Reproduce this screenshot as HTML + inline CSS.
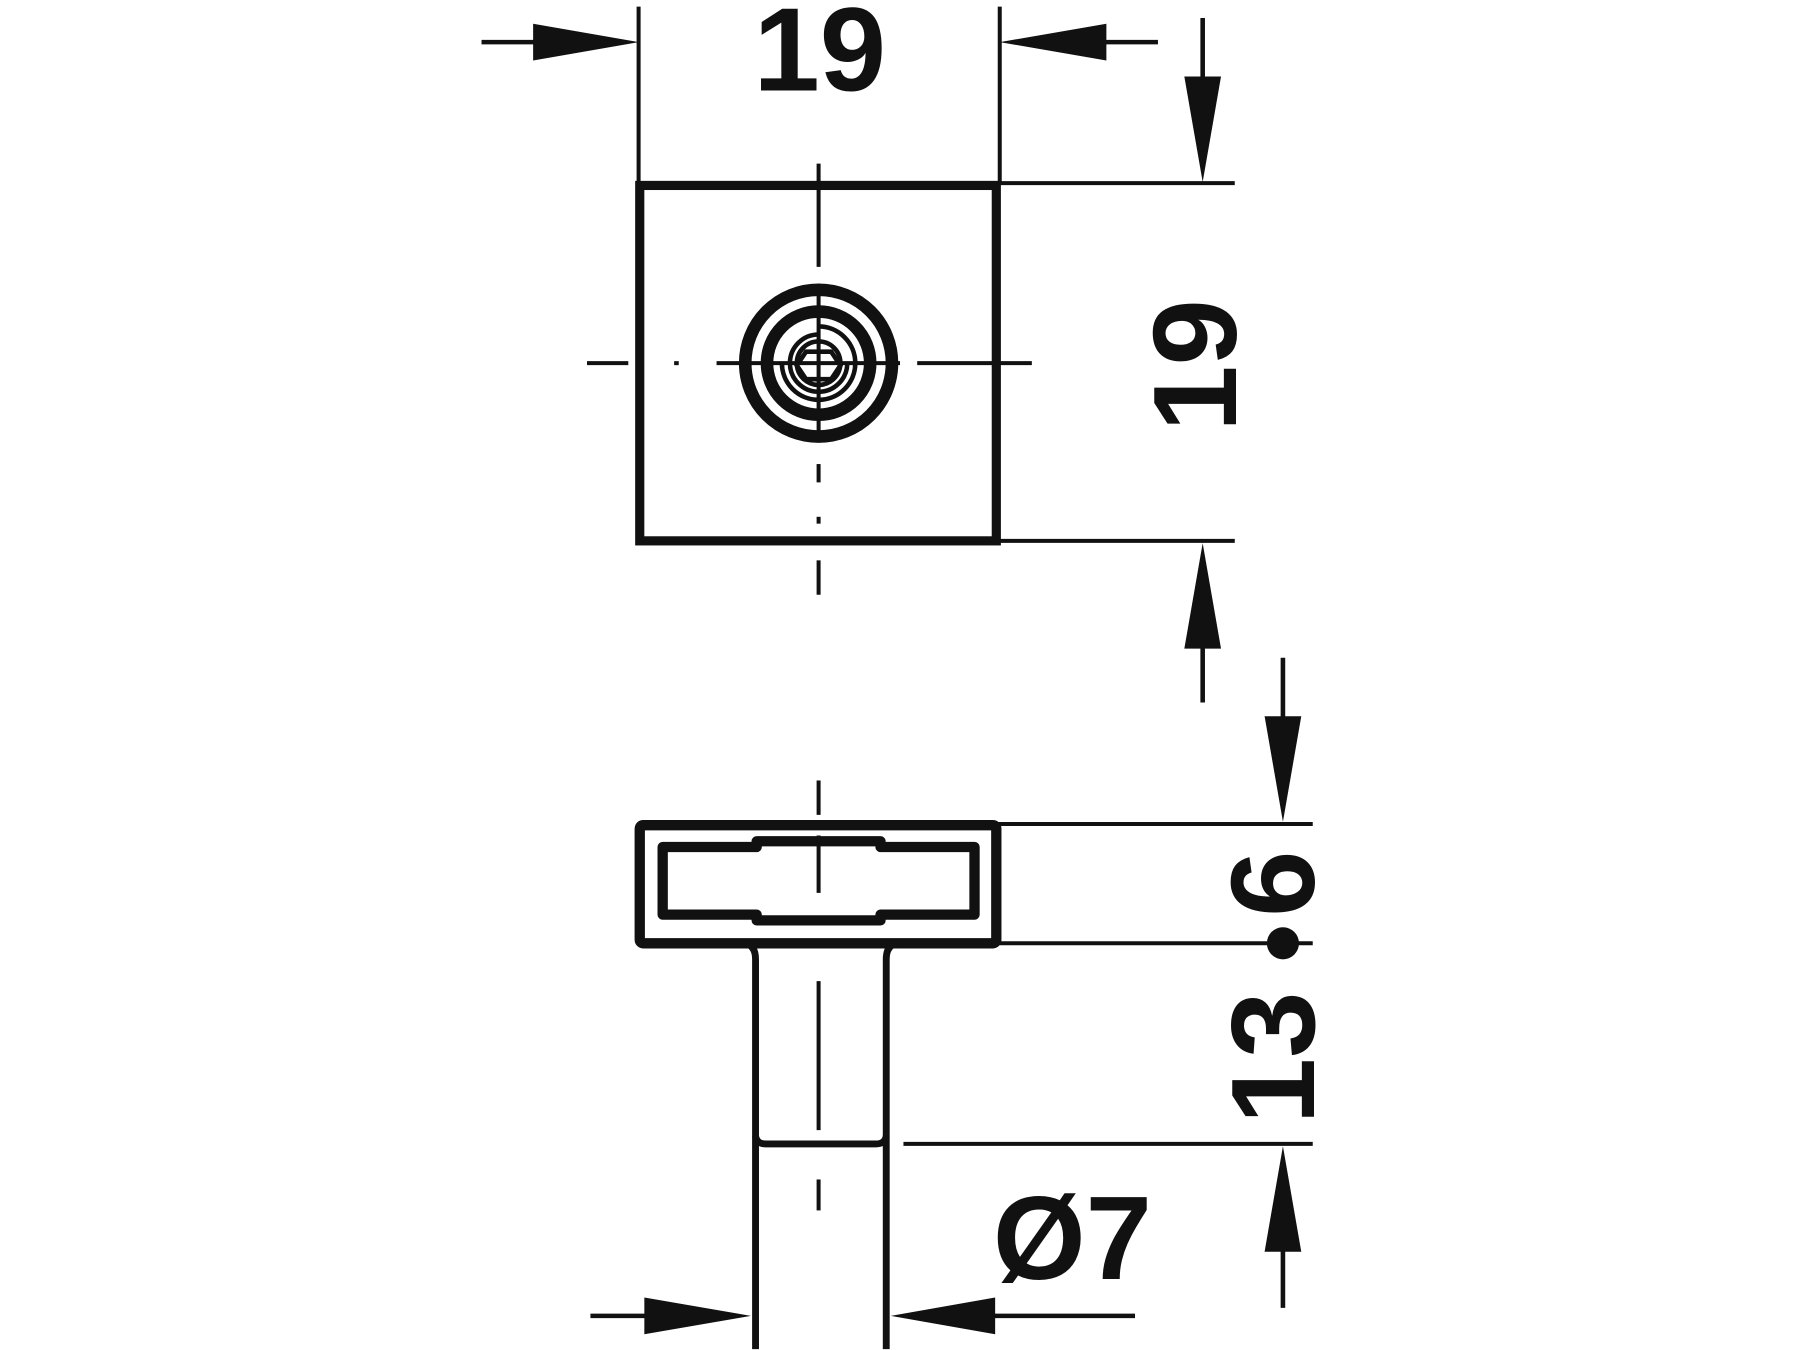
<!DOCTYPE html>
<html><head><meta charset="utf-8"><style>html,body{margin:0;padding:0;background:#fff}svg{display:block}text{font-family:"Liberation Sans",Arial,sans-serif;font-weight:bold}</style></head>
<body>
<svg width="1800" height="1350" viewBox="0 0 1570 1176" xmlns="http://www.w3.org/2000/svg">
<g fill="none" stroke="#111" stroke-linecap="butt">
<rect x="558" y="161" width="311" height="310" stroke-width="8"/>
<line x1="557" y1="5" x2="557" y2="160" stroke-width="3.5"/>
<line x1="872" y1="5" x2="872" y2="160" stroke-width="3.5"/>
<line x1="420" y1="36" x2="470" y2="36" stroke-width="4"/>
<line x1="960" y1="36" x2="1010" y2="36" stroke-width="4"/>
<line x1="870" y1="159" x2="1077" y2="159" stroke-width="3.5"/>
<line x1="870" y1="471" x2="1077" y2="471" stroke-width="3.5"/>
<line x1="1049" y1="15" x2="1049" y2="70" stroke-width="4"/>
<line x1="1049" y1="560" x2="1049" y2="612" stroke-width="4"/>
<g stroke-width="3.5">
<line x1="714" y1="142" x2="714" y2="232"/>
<line x1="714" y1="252" x2="714" y2="384"/>
<line x1="714" y1="404" x2="714" y2="420"/>
<line x1="714" y1="450" x2="714" y2="456"/>
<line x1="714" y1="488" x2="714" y2="518"/>
<line x1="512" y1="316" x2="548" y2="316"/>
<line x1="588" y1="316" x2="592" y2="316"/>
<line x1="625" y1="316" x2="785" y2="316"/>
<line x1="800" y1="316" x2="900" y2="316"/>
</g>
<circle cx="714" cy="316" r="64" stroke-width="11"/>
<circle cx="714" cy="316" r="45" stroke-width="11"/>
<path d="M714 284 A32 32 0 1 1 682 316" stroke-width="4"/>
<path d="M714 291 A25 25 0 1 0 739 316" stroke-width="4"/>
<circle cx="714" cy="316" r="19" stroke-width="4"/>
<polygon points="703,306 725,306 733,318 725,330 703,330 695,318" stroke-width="4"/>
<rect x="558" y="719" width="311" height="103" rx="3" stroke-width="9"/>
<path d="M578 738 H660 V733 H768 V738 H850 V797 H768 V802 H660 V797 H578 Z" stroke-width="9" stroke-linejoin="round"/>
<path d="M650 822 Q659 824 659 836 V1176" stroke-width="6"/>
<path d="M782 822 Q773 824 773 836 V1176" stroke-width="6"/>
<path d="M659 990 Q660 997 668 997 H764 Q772 997 773 990" stroke-width="6"/>
<g stroke-width="3.5">
<line x1="714" y1="680" x2="714" y2="710"/>
<line x1="714" y1="728" x2="714" y2="778"/>
<line x1="714" y1="855" x2="714" y2="985"/>
<line x1="714" y1="1028" x2="714" y2="1055"/>
</g>
<line x1="870" y1="718" x2="1145" y2="718" stroke-width="3.5"/>
<line x1="870" y1="822" x2="1145" y2="822" stroke-width="3.5"/>
<line x1="788" y1="997" x2="1145" y2="997" stroke-width="3.5"/>
<line x1="1119" y1="573" x2="1119" y2="630" stroke-width="4"/>
<line x1="1119" y1="1085" x2="1119" y2="1140" stroke-width="4"/>
<line x1="515" y1="1147" x2="565" y2="1147" stroke-width="4"/>
<line x1="860" y1="1147" x2="990" y2="1147" stroke-width="4"/>
</g>
<g fill="#111">
<polygon points="557,36 465,20 465,52"/>
<polygon points="872,36 965,20 965,52"/>
<polygon points="1049,158 1033,66 1065,66"/>
<polygon points="1049,473 1033,565 1065,565"/>
<polygon points="1119,716 1103,624 1135,624"/>
<polygon points="1119,999 1103,1091 1135,1091"/>
<polygon points="655,1147 562,1131 562,1163"/>
<polygon points="777,1147 868,1131 868,1163"/>
<circle cx="1119" cy="822" r="14"/>
</g>
<g font-size="104" fill="#111">
<text x="715" y="78" text-anchor="middle">19</text>
<text transform="translate(1078,318) rotate(-90)" text-anchor="middle">19</text>
<text transform="translate(1146,922) rotate(-90)" text-anchor="middle">13</text>
<text transform="translate(1146,770) rotate(-90)" text-anchor="middle">6</text>
<text x="866" y="1115">Ø7</text>
</g>
</svg>
</body></html>
